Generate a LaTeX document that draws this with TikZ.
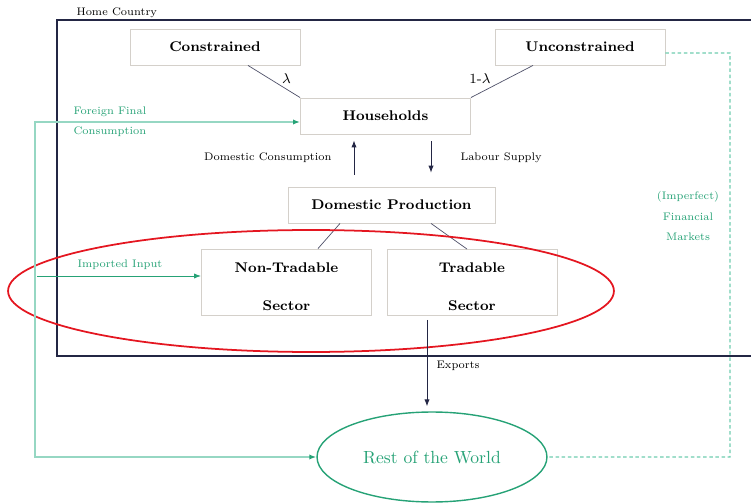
\documentclass[tikz,border=0pt]{standalone}
\usetikzlibrary{arrows.meta,shapes.geometric}
\definecolor{boxgray}{RGB}{212,208,202}
\definecolor{navy}{RGB}{35,38,68}
\definecolor{rowgreen}{RGB}{38,162,118}
\definecolor{palegreen}{RGB}{150,215,195}
\definecolor{dashgreen}{RGB}{110,205,175}
\definecolor{ovalred}{RGB}{228,22,32}
\begin{document}
\begin{tikzpicture}[x=0.02cm, y=-0.02cm,
    block/.style={draw=boxgray, line width=0.5pt, minimum width=3.4cm, minimum height=0.72cm, font=\footnotesize\bfseries},
    sectorbox/.style={block, minimum height=1.32cm, inner ysep=1pt, align=center},
    flow/.style={draw=navy, line width=0.5pt, -{Latex[length=4pt,width=3pt]}},
    link/.style={draw=navy!80, line width=0.4pt},
    greenflow/.style={draw=rowgreen, line width=0.5pt, -{Latex[length=4pt,width=3pt]}},
    note/.style={font=\scriptsize, scale=0.89},
    greennote/.style={note, text=rowgreen}]
  \useasboundingbox (0,0) rectangle (751,503);

  % Home Country - open frame, runs off the right edge
  \draw[navy, line width=1.1pt] (751,20) -- (57,20) -- (57,356) -- (751,356);
  \node[note, anchor=west] (home) at (71,13) {Home Country};

  % Households and the two types
  \node[block] (con) at (215,47) {Constrained};
  \node[block] (uncon) at (580,47) {Unconstrained};
  \node[block] (hh) at (385.5,116) {Households};
  \draw[link] ([xshift=0.66cm]con.south) -- (hh.north west)
    node[midway, right=1pt, yshift=1.5pt, font=\footnotesize] {$\lambda$};
  \draw[link] ([xshift=-0.94cm]uncon.south) -- (hh.north east)
    node[midway, left=3pt, yshift=1.5pt, font=\footnotesize] {1-$\lambda$};

  % Domestic production and the sectors
  \node[block, minimum width=4.14cm] (prod) at (391.5,205) {Domestic Production};
  \node[sectorbox] (nontrad) at (286.5,282) {\mbox{}\\[1pt]Non-Tradable\\[12pt]Sector};
  \node[sectorbox] (trad) at (472,282.5) {\mbox{}\\[1pt]Tradable\\[12pt]Sector};
  \draw[link] ([xshift=-1.03cm]prod.south) -- ([xshift=0.63cm]nontrad.north);
  \draw[link] ([xshift=0.79cm]prod.south) -- ([xshift=-0.1cm]trad.north);

  % consumption and labour
  \draw[flow, shorten <=6.8pt, shorten >=3.4pt] (prod.north -| 354,0) -- (hh.south -| 354,0);
  \node[note, anchor=east] (dcons) at (337,158) {Domestic Consumption};
  \draw[flow, shorten <=4pt, shorten >=7.9pt] (hh.south -| 431,0) -- (prod.north -| 431,0);
  \node[note, anchor=west] (labour) at (455,158) {Labour Supply};

  % tradables / non-tradables
  \draw[ovalred, line width=1pt] (311,291) ellipse [x radius=6.06cm, y radius=1.22cm];

  % Rest of the World
  \node[draw=rowgreen, line width=0.8pt, ellipse, minimum width=4.6cm, minimum height=1.8cm,
    text=rowgreen, font=\normalsize] (row) at (432,457) {Rest of the World};
  \draw[flow, shorten <=2.3pt, shorten >=2.8pt] (trad.south -| 427,0) -- (row.north -| 427,0);
  \node[note, anchor=west] (exports) at (431,366) {Exports};

  % imported input
  \coordinate (impsrc) at (37,276);
  \draw[greenflow] (impsrc) -- (nontrad.west |- impsrc);
  \node[greennote, anchor=west] (imp) at (72,265) {Imported Input};

  % foreign final consumption
  \coordinate (ffc) at (35,457);
  \draw[draw=palegreen, line width=0.8pt, {Latex[length=4pt,width=3pt,color=rowgreen]}-{Latex[length=4pt,width=3pt,color=rowgreen]}]
    (row.west) -- (ffc) |- ([yshift=-0.12cm]hh.west);
  \node[greennote, anchor=west, align=left] (ffcl) at (68,122) {Foreign Final\\[5pt]Consumption};

  % financial markets
  \coordinate (fincorner) at (730,53);
  \draw[dashgreen, line width=0.6pt, dash pattern=on 2pt off 1.5pt] ([yshift=-0.12cm]uncon.east) -- (fincorner) |- (row.east);
  \node[greennote, align=center] (fin) at (688,216) {(Imperfect)\\[5pt]Financial\\[5pt]Markets};
\end{tikzpicture}
\end{document}
